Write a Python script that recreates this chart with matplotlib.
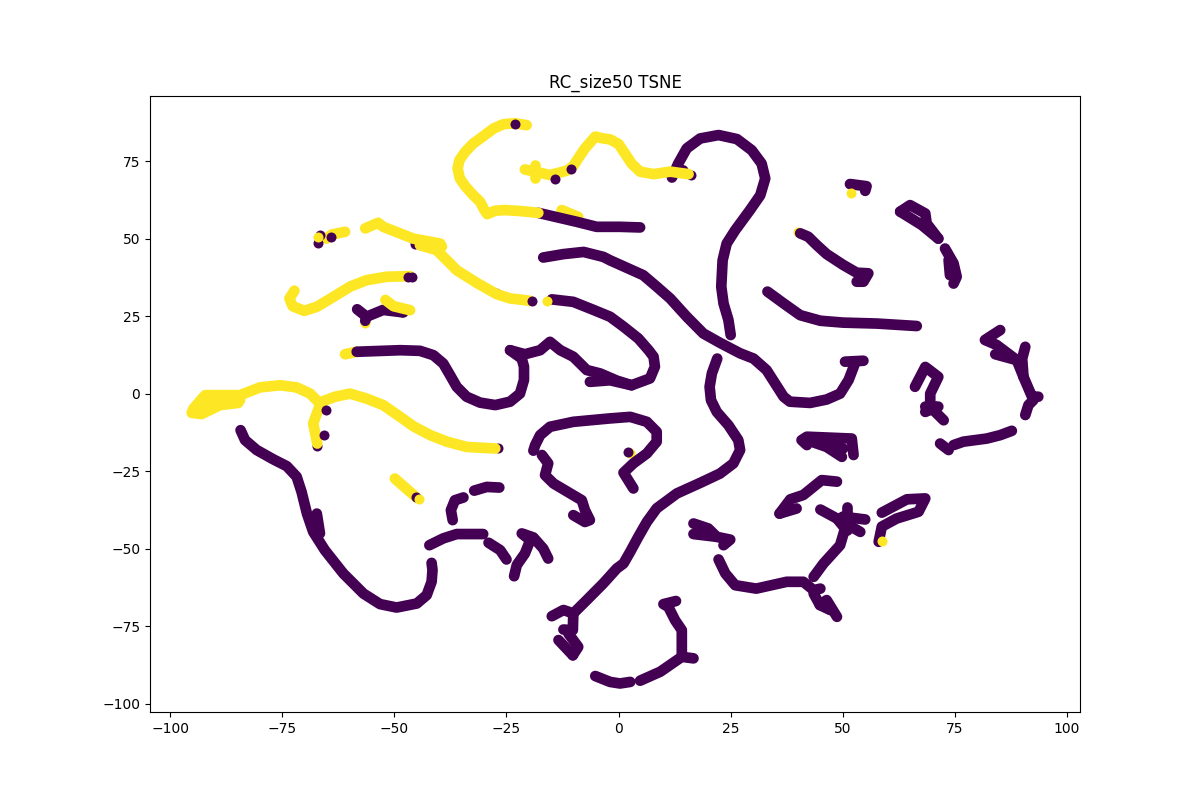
import matplotlib
matplotlib.use("Agg")
import matplotlib.pyplot as plt

# ---------- COLOURS ----------
PURPLE = "#440154"
YELLOW = "#fde725"
STROKE = 7.7
DOT = 52

# ---------- YELLOW STRANDS (label 1) ----------
y_arch = [(-20.5, 86.6), (-23.1, 87.2), (-25.7, 86.9), (-27.9, 85.5), (-30.2, 83), (-32.4, 80.7), (-34.2, 78),
          (-35.5, 75.3), (-35.9, 72.6), (-35.4, 69.4), (-34.2, 66.9), (-32.4, 64), (-30.9, 61.9), (-30, 59.4),
          (-29.3, 57.9), (-27.5, 59), (-25.3, 59.2), (-22, 58.9), (-17.9, 58.3)]
y_wave = [(-20.9, 72.3), (-18.6, 71.6), (-15.3, 70.5), (-11.6, 71.9), (-10.1, 73.4), (-9, 75.9), (-7.5, 79.1),
          (-5.2, 82.9), (-3.4, 82.3), (-1.9, 82), (0, 80.5), (1.4, 77.5), (2.9, 74.2), (4.8, 71.6), (7.8, 70.8),
          (11.5, 71.6), (15.6, 70.8)]
y_wave_tick = [(-18.6, 73.7), (-18.6, 69.4)]
y_diag = [(-56.5, 53.3), (-53.6, 55.1), (-52.5, 53.8), (-45.8, 50), (-39.8, 48.4), (-39.4, 47.4), (-44.3, 47.9),
          (-40.6, 46.3), (-37.6, 42), (-36.1, 39.8), (-31.6, 35.7), (-27.2, 32.1), (-24.2, 30.7), (-21.2, 30.2),
          (-19.7, 29.9)]
y_hook = [(-72.3, 33.2), (-73.4, 30.7), (-72.7, 28.2), (-70.1, 26.7), (-67.3, 28), (-63.6, 31.2), (-59.9, 34.5),
          (-56.2, 36.6), (-51.7, 37.7), (-46.5, 37.9)]
y_short = [(-52, 30.2), (-50.2, 28.2), (-46.5, 26.9)]
y_stub = [(-61, 52.2), (-64, 51.3), (-65.1, 50)]
y_loop = [(-67, -2.6), (-68.8, 0), (-71.8, 2), (-75.5, 2.7), (-80, 2), (-84.4, -0.5), (-92.2, -0.5),
          (-94.8, -4.8), (-95.2, -6.2), (-93, -6.6), (-88.9, -3.7), (-84.8, -3)]
y_loop_inner = [(-93.3, -5.3), (-89.3, -2.1), (-84.4, -2.1)]
y_drop = [(-66.6, -3.7), (-67.3, -6.4), (-68.1, -9.6), (-67.2, -16.1)]
y_tail = [(-66.2, -2.6), (-63.2, -1), (-59.9, 0), (-56.2, -1.6), (-52.5, -3.7), (-48.7, -7.5), (-45.8, -10.5),
          (-42, -13.4), (-38.3, -15.5), (-33.9, -17.2), (-27.5, -17.7)]
y_dash = [(-49.9, -27.4), (-45, -33.6)]
yellow_strands = [y_arch, y_wave, y_wave_tick, y_diag, y_hook, y_short, y_stub, y_loop, y_loop_inner,
                  y_drop, y_tail, y_dash]

# yellow pieces that sit under the purple ones
y_under_top = [(-12.7, 59.2), (-9, 57)]
y_under_mid = [(-61, 12.7), (-58.4, 13.5)]
yellow_under = [y_under_top, y_under_mid]
y_under_x = [40.1, -56.5, 2.5]
y_under_y = [52.2, 22.9, -19]

# ---------- PURPLE STRANDS (label 0) ----------
p_top = [(-17.9, 58.3), (-9.3, 55.4), (-4.9, 53.8), (0.3, 53.8), (4.8, 53.6)]
p_small = [(-58.3, 27.2), (-56.2, 24.8), (-52.5, 27), (-48, 26.2)]
p_small_b = [(-56.2, 24.8), (-56.5, 23.5)]
p_curl = [(-58.4, 13.5), (-48.7, 14), (-44.3, 13.8), (-41.3, 12.4), (-39.1, 9.7), (-37.6, 6), (-36.1, 2.2),
          (-33.9, -1), (-30.9, -2.9), (-27.5, -3.7), (-24.2, -2.6), (-22, 0), (-21.1, 4.4), (-21.1, 8.7),
          (-21.6, 11.3), (-24.2, 14)]
p_hump = [(-24.2, 14), (-20.9, 12.7), (-17.5, 14), (-15.3, 16.7), (-13, 14), (-10.1, 11.9), (-7.1, 7.6),
          (-4.1, 6.5), (-0.4, 4.2), (2.9, 2.7), (7, 4.9), (8.1, 8.7), (7.8, 11.9), (6.7, 14), (4.4, 17.8),
          (1.1, 21.6), (-1.9, 24.8), (-5.6, 27), (-10.1, 29.6), (-14.9, 30.4)]
p_hump_b = [(-6.4, 3.8), (-1.9, 4.3), (2.9, 2.7)]
p_long = [(-16.8, 43.9), (-12.3, 45), (-7.8, 45.7), (-3.4, 44.1), (-1.9, 43), (1.8, 40.6), (5.5, 38.2), (8.5, 34.5),
          (11.5, 30.7), (15.2, 24.8), (18.9, 19.4), (22.6, 16.4), (27.1, 13), (30.1, 11.3), (33, 7.6), (34.9, 3.3),
          (36.8, -1), (38.2, -2.6), (42.7, -3), (46.4, -1.9), (49.4, 0), (51.3, 4.4), (52.7, 9.7)]
p_long_end = [(50.5, 10.3), (54.6, 10.6)]
p_big_arch = [(11.9, 69.7), (13.3, 74.2), (15.2, 79.1), (18.2, 82.3), (22.3, 83.4), (26.4, 82.1), (29.7, 78.5),
              (31.9, 74.2), (32.7, 69.4), (31.6, 64), (29.3, 59.2), (26, 52.7), (24.1, 48.4), (23.2, 43),
              (22.9, 34.5), (23.4, 29.1), (24.5, 23.7), (25, 18.9)]
p_arch_tick = [(13.3, 72.1), (14.4, 72)]
p_k = [(40.5, 51.7), (42.3, 50.6), (44.2, 47.9), (46.4, 45), (50.1, 41.5), (53.1, 39), (55.7, 38.8), (54.6, 36.1),
       (53.1, 36.1)]
p_l = [(51.6, 67.6), (55.3, 66.9), (55, 65.4)]
p_m = [(33.2, 32.9), (36.8, 29.1), (40.5, 25.3), (45, 23.5), (50.1, 22.9), (57.6, 22.6), (66.5, 21.8)]
p_n = [(62.8, 58.7), (65, 60.8), (68.4, 58.1), (68.7, 54.9), (71.3, 50)]
p_n_low = [(62.8, 58.7), (67.6, 54.4), (71.3, 50)]
p_n_tail = [(72.8, 46.8), (74.7, 42), (75.4, 37.7), (74.7, 35.5)]
p_n_tail_b = [(73.6, 43.1), (73.9, 38.2)]
p_o = [(85.1, 20.5), (81.7, 17.3), (84.3, 15.7), (88.8, 10.8), (90.3, 5.4), (92.2, -1), (93.6, -1)]
p_o_up = [(90.7, 15.1), (90, 11.3), (90.3, 5.4)]
p_o_side = [(84, 12.7), (88.8, 10.8)]
p_o_tail = [(92.5, -2.1), (91.4, -3.7), (90.7, -6.9)]
p_p = [(66.1, 2.2), (68.4, 8.6), (71.3, 5.4), (69.5, 0), (69.5, -4.3), (72.5, -8.6)]
p_p_b = [(68.4, -4.2), (71.3, -4.2), (68.4, -5.9)]
p_q = [(71.7, -16.1), (73.6, -18.2)]
p_q_long = [(74.7, -16.6), (76.9, -15.5), (82.1, -14.5), (85.1, -13.4), (87.7, -12)]
p_r = [(-19, -18.4), (-18.6, -16.6), (-17.5, -13.4), (-15.3, -10.7), (-10.1, -9.1), (-1.9, -8), (2.6, -7.5),
       (6.3, -9.1), (8.5, -12.3), (8.5, -15.5), (6.3, -19.3), (3.3, -22.5), (1.1, -25.5), (3.3, -30.6)]
p_s = [(22, 11.3), (20.8, 6.5), (20.3, 2.2), (20.6, -2.1), (21.9, -5.9), (24.5, -10.2), (26.7, -15), (27.1, -18.2),
       (25.6, -22.5), (22.6, -25.8), (18.2, -28.8), (13, -32.2), (8.5, -37), (6.3, -41.4), (4.4, -46.2), (2.6, -51),
       (1.1, -54.8), (-0.4, -56.4), (-3.4, -61.2), (-7.1, -66.6), (-10.1, -70.9), (-12.3, -69.8), (-14.9, -71.8)]
p_s_end = [(-10.1, -70.9), (-10.2, -76.3), (-12.3, -76.1)]
p_s_end_b = [(-13.4, -79.5), (-10.2, -84.4)]
p_s_end_c = [(-11.2, -77.4), (-9, -81.7), (-10.2, -84.4)]
p_t = [(-84.3, -11.8), (-83.3, -15), (-80.7, -18.2), (-77, -21.2), (-74, -23.4), (-71.8, -26.8), (-70.7, -31.7),
       (-69.5, -38.7), (-68.1, -44.6), (-65.5, -50.5), (-61.4, -58), (-56.9, -64.5), (-53.2, -67.9), (-49.5, -69),
       (-45, -67.7), (-42.8, -65), (-41.7, -60.7), (-41.5, -56.9), (-41.7, -54.6)]
p_t_b = [(-67.3, -38.7), (-66.6, -45.1)]
p_y = [(-37, -40.8), (-37.4, -37.6), (-36.5, -34.4), (-34.6, -33.5)]
p_z = [(-32.2, -31.3), (-29.4, -30.1), (-26.6, -30.3)]
p_aa = [(-42.2, -48.9), (-39.1, -46.7), (-36.1, -45.3), (-30.2, -45.3)]
p_ab = [(-29, -48.1), (-26.4, -50.5), (-25, -53.5)]
p_ac = [(-23.3, -58.9), (-22.7, -55.3), (-20.9, -51.6), (-19.7, -47.3), (-21.6, -45.1), (-19, -46.4),
        (-16.8, -50), (-15.7, -53.2)]
p_ad = [(-17.1, -19.8), (-15.7, -22.5), (-16.4, -26.3), (-14.5, -29), (-8.2, -34.4), (-7.5, -37.6),
        (-6.4, -40.8), (-7.5, -41.4), (-10.1, -39.2)]
p_ae = [(-5.2, -91.1), (-1.9, -93), (0.3, -93.5), (2.6, -93)]
p_af = [(4.8, -92.6), (9.3, -89.7), (14.1, -84.9), (16.7, -85.4)]
p_af_up = [(14.1, -84.9), (14.1, -76.3), (12.6, -73.1), (11.1, -68.8), (10, -67.9), (12.8, -66.9)]
p_ag = [(16.7, -41.9), (20, -43.5), (21.9, -46.2), (24.9, -47.1), (23.4, -48.9)]
p_ag_b = [(16.7, -45.3), (21.9, -46.2)]
p_ah = [(22.3, -53.5), (23.8, -58), (26, -61.8), (30.7, -62.9), (37.5, -60.7), (41.2, -60.7), (43.5, -63.4),
        (45, -62.9)]
p_ah_b = [(43.5, -64.5), (44.9, -68.2), (46.4, -66.6), (48.7, -72)]
p_ah_c = [(44.9, -68.2), (47.2, -69.8)]
p_branch = [(43.5, -59.1), (45.7, -54.8), (49.4, -48.9), (50.5, -43.5), (48.7, -40.3), (45, -37.4)]
p_blob_a = [(48.7, -40.3), (53.9, -44.6)]
p_blob_b = [(51, -36.5), (51, -44)]
p_blob_c = [(50, -39.7), (55, -40.6)]
p_ai = [(35.9, -38.7), (38.3, -34.1), (41.2, -32.7), (45.3, -27.9), (48.7, -28.4)]
p_ai_b = [(35.9, -38.7), (39.7, -37.05)]
p_aj = [(42, -16.6), (40.8, -15), (42, -13.9), (52, -14.5), (52.4, -19.8)]
p_aj_b = [(42, -15), (46.4, -17.2), (49.8, -20.4)]
p_aj_c = [(45.7, -15), (50.1, -17.7)]
p_ak = [(58.7, -38.4), (64.3, -34.1), (68.4, -33.8), (66.9, -38.1), (62, -40.3), (58.7, -42.9), (58, -47.8)]
purple_strands = [p_top, p_small, p_small_b, p_curl, p_hump, p_hump_b, p_long, p_long_end, p_big_arch, p_arch_tick,
                  p_k, p_l, p_m, p_n, p_n_low, p_n_tail, p_n_tail_b, p_o, p_o_up, p_o_side, p_o_tail, p_p, p_p_b,
                  p_q, p_q_long, p_r, p_s, p_s_end, p_s_end_b, p_s_end_c, p_t, p_t_b, p_y, p_z, p_aa, p_ab, p_ac,
                  p_ad, p_ae, p_af, p_af_up, p_ag, p_ag_b, p_ah, p_ah_b, p_ah_c, p_branch, p_blob_a, p_blob_b,
                  p_blob_c, p_ai, p_ai_b, p_aj, p_aj_b, p_aj_c, p_ak]

# ---------- SINGLE POINTS ----------
# purple points mostly hidden by the yellow strands
hidden_x = [-45.4, -26.9, 16.1, -67.2, -27.3, -48.2]
hidden_y = [48.4, -17.7, 70.4, -16.9, 32.3, 26.2]
# points on top of everything
purple_x = [-23.1, -14.2, -10.7, -19.4, -64.1, -66.6, -67, -46.1, -46.9, -65.2, -65.7, -45.2, 2.2]
purple_y = [87, 69.3, 72.6, 30, 50.6, 51.1, 48.7, 37.5, 37.6, -5.3, -13.2, -33.3, -18.8]
yellow_x = [-15.9, 51.8, 58.7, -67, -44.6]
yellow_y = [30, 64.6, -47.6, 50.4, -33.9]


def draw_strand(ax, strand, color):
    xs = [p[0] for p in strand]
    ys = [p[1] for p in strand]
    ax.plot(xs, ys, color=color, lw=STROKE, solid_capstyle="round", solid_joinstyle="round")


if __name__ == "__main__":
    fig, ax = plt.subplots(figsize=(12, 8), dpi=100)

    for s in yellow_under:
        draw_strand(ax, s, YELLOW)
    ax.scatter(y_under_x, y_under_y, s=DOT, color=YELLOW, linewidths=0, zorder=2)
    for s in purple_strands:
        draw_strand(ax, s, PURPLE)
    ax.scatter(hidden_x, hidden_y, s=DOT, color=PURPLE, linewidths=0, zorder=2)
    for s in yellow_strands:
        draw_strand(ax, s, YELLOW)
    ax.scatter(purple_x, purple_y, s=DOT, color=PURPLE, linewidths=0, zorder=3)
    ax.scatter(yellow_x, yellow_y, s=DOT, color=YELLOW, linewidths=0, zorder=4)

    ax.set_xlim(-104.5, 102.9)
    ax.set_ylim(-102.7, 96)
    ax.set_title("RC_size50 TSNE")
    fig.savefig("out.png", dpi=100)
